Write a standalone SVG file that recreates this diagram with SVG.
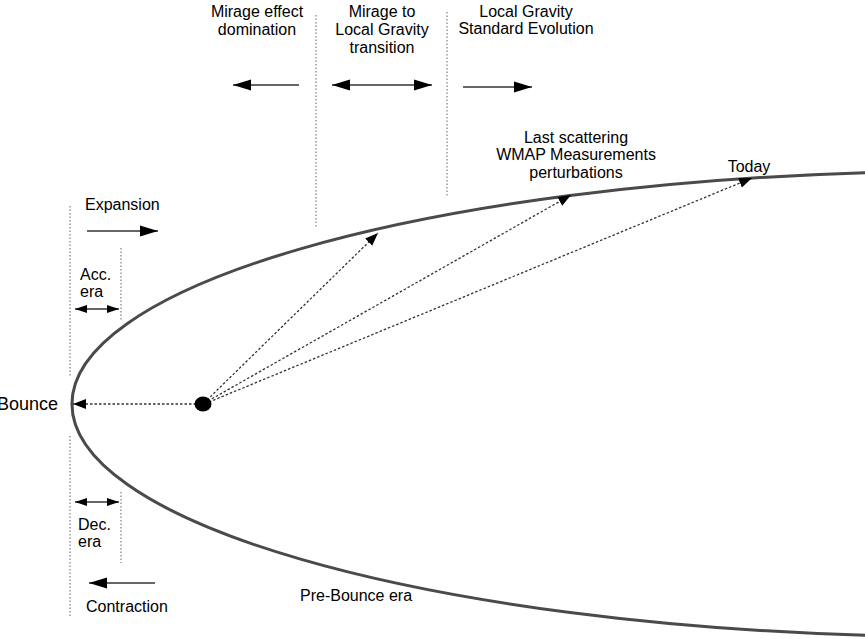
<svg xmlns="http://www.w3.org/2000/svg" width="865" height="639" viewBox="0 0 865 639">
<defs>
<style>
text{font-family:"Liberation Sans",Arial,sans-serif;font-size:16px;fill:#000}
.mid{text-anchor:middle}
.vdot{stroke:#666;stroke-width:1;stroke-dasharray:1.5 2;fill:none}
.conn{stroke:#333;stroke-width:1.3;stroke-dasharray:2.5 2;fill:none}
.harr{stroke:#333;stroke-width:1.6;fill:none}
.curve{stroke:#4a4a4a;stroke-width:3;fill:none}
</style>
<marker id="big" markerUnits="userSpaceOnUse" markerWidth="18" markerHeight="12" refX="18" refY="6" orient="auto-start-reverse"><path d="M0,0.5 L18,6 L0,11.5 z" fill="#000"/></marker>
<marker id="small" markerUnits="userSpaceOnUse" markerWidth="12" markerHeight="9" refX="12" refY="4.5" orient="auto-start-reverse"><path d="M0,0.5 L12,4.5 L0,8.5 z" fill="#000"/></marker>
<marker id="tip" markerUnits="userSpaceOnUse" markerWidth="13" markerHeight="11" refX="13" refY="5.5" orient="auto"><path d="M0,0.5 L13,5.5 L0,10.5 z" fill="#000"/></marker>
</defs>
<g id="curve"><path class="curve" d="M 870 172.5 A 900 233 0 0 0 870 635.5"/></g>
<g id="guides">
<line class="vdot" x1="70" y1="206" x2="70" y2="376"/>
<line class="vdot" x1="70" y1="436" x2="70" y2="618"/>
<line class="vdot" x1="121" y1="248" x2="121" y2="320"/>
<line class="vdot" x1="121" y1="492" x2="121" y2="563"/>
<line class="vdot" x1="316" y1="15" x2="316" y2="228"/>
<line class="vdot" x1="447" y1="12" x2="447" y2="197"/>
</g>
<g id="connectors">
<line class="conn" x1="196" y1="404" x2="73" y2="404" marker-end="url(#tip)"/>
<line class="conn" x1="207" y1="400" x2="378" y2="233" marker-end="url(#tip)"/>
<line class="conn" x1="208" y1="401" x2="571" y2="195" marker-end="url(#tip)"/>
<line class="conn" x1="209" y1="402" x2="752" y2="178" marker-end="url(#tip)"/>
</g>
<g id="arrows">
<line class="harr" x1="299" y1="85" x2="233" y2="85" marker-end="url(#big)"/>
<line class="harr" x1="332" y1="85" x2="432" y2="85" marker-start="url(#big)" marker-end="url(#big)"/>
<line class="harr" x1="463" y1="87" x2="532" y2="87" marker-end="url(#big)"/>
<line class="harr" x1="87" y1="231" x2="158" y2="231" marker-end="url(#big)"/>
<line class="harr" x1="75" y1="309" x2="119" y2="309" marker-start="url(#small)" marker-end="url(#small)"/>
<line class="harr" x1="75" y1="502" x2="119" y2="502" marker-start="url(#small)" marker-end="url(#small)"/>
<line class="harr" x1="155" y1="583" x2="89" y2="583" marker-end="url(#big)"/>
</g>
<g id="source"><ellipse cx="203" cy="404" rx="8.5" ry="7.5" fill="#000"/></g>
<g id="labels">
<text class="mid" x="257" y="17">Mirage effect</text>
<text class="mid" x="257" y="35">domination</text>
<text class="mid" x="382" y="17">Mirage to</text>
<text class="mid" x="382" y="35">Local Gravity</text>
<text class="mid" x="382" y="53">transition</text>
<text class="mid" x="526" y="17">Local Gravity</text>
<text class="mid" x="526" y="34">Standard Evolution</text>
<text class="mid" x="576" y="143">Last scattering</text>
<text class="mid" x="576" y="160">WMAP Measurements</text>
<text class="mid" x="576" y="178">perturbations</text>
<text class="mid" x="749" y="172">Today</text>
<text x="85" y="210">Expansion</text>
<text x="80" y="280">Acc.</text>
<text x="80" y="297">era</text>
<text x="58" y="410" text-anchor="end" style="font-size:18px">Bounce</text>
<text x="78" y="530">Dec.</text>
<text x="78" y="547">era</text>
<text x="86" y="612">Contraction</text>
<text x="300" y="601">Pre-Bounce era</text>
</g>
</svg>
